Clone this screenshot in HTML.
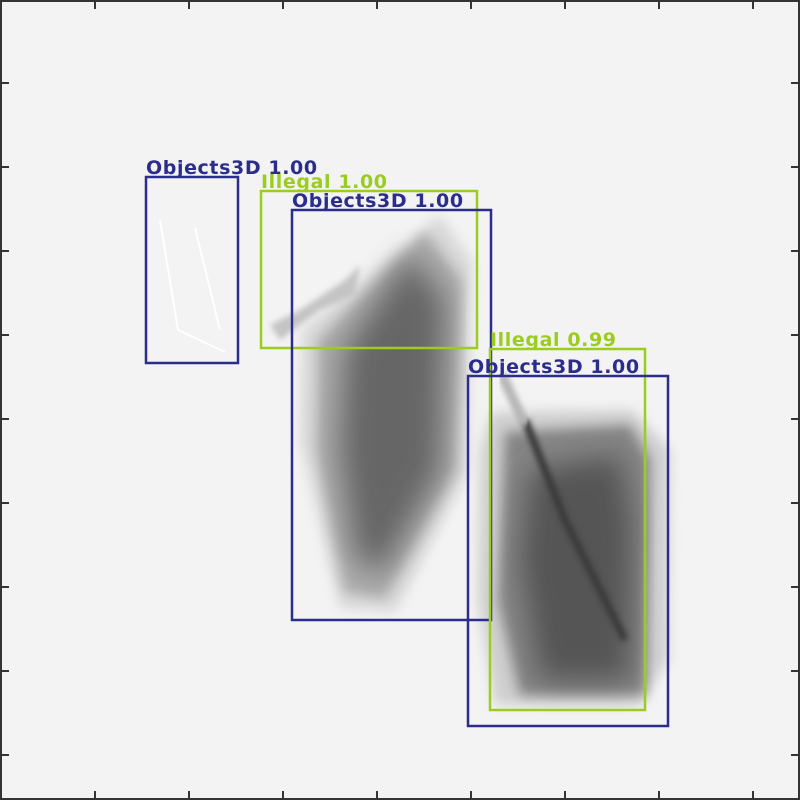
<!DOCTYPE html>
<html><head><meta charset="utf-8"><style>
html,body{margin:0;padding:0;background:#f3f3f3}
svg{display:block}
text{font-family:"DejaVu Sans","Liberation Sans",sans-serif;font-weight:bold;font-size:19px;letter-spacing:0.6px}
</style></head><body>
<svg id="chart" width="800" height="800" viewBox="0 0 800 800" xmlns="http://www.w3.org/2000/svg">
<defs>
<filter id="b6" x="-20%" y="-20%" width="140%" height="140%"><feGaussianBlur stdDeviation="6"/></filter>
<filter id="b12" x="-20%" y="-20%" width="140%" height="140%"><feGaussianBlur stdDeviation="14"/></filter>
<filter id="b3"><feGaussianBlur stdDeviation="3"/></filter>
</defs>
<rect x="0" y="0" width="800" height="800" fill="#f3f3f3"/>
<g>
<polygon points="302,330 440,215 472,262 468,470 395,612 340,608 300,440" fill="#d8d8d8" filter="url(#b6)"/>
<polygon points="318,340 425,232 462,280 455,470 385,598 345,592 316,450" fill="#aaaaaa" filter="url(#b6)"/>
<polygon points="345,350 410,255 445,300 440,470 380,575 355,555 340,450" fill="#666666" filter="url(#b12)"/>
<polygon points="270,325 300,310 345,280 360,265 355,295 320,310 280,340" fill="#c4c4c4" filter="url(#b3)"/>
</g>
<g>
<polygon points="492,412 632,410 670,450 668,660 640,705 495,705 478,600 480,450" fill="#cfcfcf" filter="url(#b6)"/>
<polygon points="505,432 630,425 650,460 645,695 520,695 498,600" fill="#858585" filter="url(#b6)"/>
<polygon points="530,470 620,455 632,520 630,680 540,680 520,560" fill="#555555" filter="url(#b12)"/>
<polyline points="525,420 545,470 565,520 605,600 625,640" fill="none" stroke="#3a3a3a" stroke-width="8" filter="url(#b3)"/>
<polyline points="502,375 525,425" fill="none" stroke="#b5b5b5" stroke-width="10" filter="url(#b3)"/>
</g>
<g>
<polyline points="160,220 178,330 225,352" fill="none" stroke="#ffffff" stroke-width="2"/>
<polyline points="195,228 220,330" fill="none" stroke="#ffffff" stroke-width="2"/>
</g>
<g id="frame"></g>
<g id="boxes"></g>
</svg>
<script>
const labels=["Objects3D 1.00","Illegal 1.00","Objects3D 1.00","Illegal 0.99","Objects3D 1.00"];
const classes=["obj","ill","obj","ill","obj"];
const x0s=[146,261,292,490,468];
const y0s=[177,191,210,349,376];
const x1s=[238,477,491,645,668];
const y1s=[363,348,620,710,726];
const xTicks=[95,189,283,377,471,565,659,753];
const yTicks=[83,167,251,335,419,503,587,671,755];
const NS="http://www.w3.org/2000/svg";
const colors={obj:"#2b2d8c",ill:"#9acd1e"};
const fr=document.getElementById('frame');
function mk(t,a,p){const e=document.createElementNS(NS,t);for(const k in a)e.setAttribute(k,a[k]);p.appendChild(e);return e;}
const br=mk('rect',{x:1,y:1,width:798,height:798,fill:'none',stroke:'#333',"stroke-width":2},fr);


xTicks.forEach(x=>{
  const t1=mk('line',{x1:x,y1:0,x2:x,y2:9,stroke:'#333',"stroke-width":2},fr);
  
  
  const t2=mk('line',{x1:x,y1:791,x2:x,y2:800,stroke:'#333',"stroke-width":2},fr);
  
  
});
yTicks.forEach(y=>{
  const t1=mk('line',{x1:0,y1:y,x2:9,y2:y,stroke:'#333',"stroke-width":2},fr);
  
  
  const t2=mk('line',{x1:791,y1:y,x2:800,y2:y,stroke:'#333',"stroke-width":2},fr);
  
  
});
const bg=document.getElementById('boxes');
labels.forEach((l,i)=>{
  const c=colors[classes[i]];
  const r=mk('rect',{x:x0s[i],y:y0s[i],width:x1s[i]-x0s[i],height:y1s[i]-y0s[i],fill:'none',stroke:c,"stroke-width":2.5},bg);
  
  
  const t=mk('text',{x:x0s[i],y:y0s[i]-3,fill:c},bg);
  t.textContent=l;
  
  
});
</script>
</body></html>
